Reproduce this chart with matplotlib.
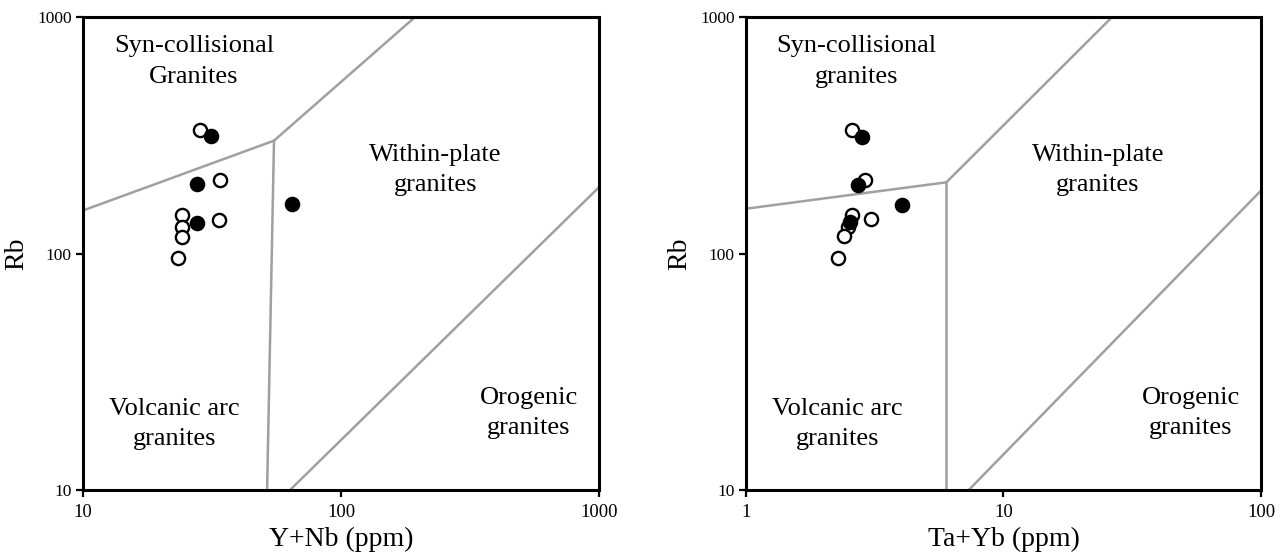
import numpy as np
import matplotlib
matplotlib.use("Agg")
import matplotlib.pyplot as plt

plt.rcParams['font.family'] = ['Liberation Serif', 'DejaVu Serif']

# Field boundaries (Pearce et al. 1984)
yn_bounds = [
    [(2, 80), (55, 300), (400, 2000)],
    [(55, 300), (51.5, 8)],
    [(51.5, 8), (2000, 400)],
]
ty_bounds = [
    [(0.5, 140), (6, 200), (50, 2000)],
    [(6, 200), (6, 8)],
    [(6, 8), (200, 400)],
]

# Samples - Y+Nb vs Rb
yn_open_x = [28.3, 34.0, 24.3, 24.1, 24.3, 23.4, 33.7]
yn_open_y = [332, 205, 145, 129, 117.5, 95.3, 139]
yn_fill_x = [31.4, 27.6, 27.6, 64.5]
yn_fill_y = [313, 197, 135, 162]

# Samples - Ta+Yb vs Rb
ty_open_x = [2.57, 2.90, 2.57, 2.50, 2.40, 3.06, 2.27]
ty_open_y = [333, 205, 146, 130, 118.6, 139.7, 95.9]
ty_fill_x = [2.81, 2.73, 2.53, 4.05]
ty_fill_y = [312, 195, 136, 160]

labels = ["Syn-collisional\n{}", "Within-plate\ngranites",
          "Volcanic arc\ngranites", "Orogenic\ngranites"]
label_pos = [(0.215, 0.906), (0.683, 0.677), (0.177, 0.14), (0.864, 0.163)]

panels = [
    dict(rect=[83/1288, 1-490/553, 516/1288, 473/553], xlim=(10, 1000),
         xticks=[10, 100, 1000], bounds=yn_bounds,
         ox=yn_open_x, oy=yn_open_y, fx=yn_fill_x, fy=yn_fill_y,
         xlabel="Y+Nb (ppm)", syn="Granites"),
    dict(rect=[746/1288, 1-490/553, 515/1288, 473/553], xlim=(1, 100),
         xticks=[1, 10, 100], bounds=ty_bounds,
         ox=ty_open_x, oy=ty_open_y, fx=ty_fill_x, fy=ty_fill_y,
         xlabel="Ta+Yb (ppm)", syn="granites"),
]

fig = plt.figure(figsize=(12.88, 5.53), dpi=100)

for p in panels:
    ax = fig.add_axes(p['rect'])
    ax.set_xscale('log')
    ax.set_yscale('log')

    for seg in p['bounds']:
        xs, ys = zip(*seg)
        ax.plot(xs, ys, color='#a0a0a0', lw=1.8, zorder=1)

    ax.plot(p['ox'], p['oy'], 'o', ms=9.5, mfc='white', mec='black', mew=1.7, zorder=3)
    ax.plot(p['fx'], p['fy'], 'o', ms=9.5, mfc='black', mec='black', mew=1.7, zorder=4)

    ax.set_xlim(*p['xlim'])
    ax.set_ylim(10, 1000)

    ax.set_xticks(p['xticks'])
    ax.set_xticklabels([str(t) for t in p['xticks']], fontsize=13.5)
    ax.set_yticks([10, 100, 1000])
    ax.set_yticklabels(['10', '100', '1000'], fontsize=12.5)
    ax.minorticks_off()
    ax.tick_params(direction='out', length=5, width=1.6, pad=3)
    ax.tick_params(axis='x', pad=5)
    for s in ax.spines.values():
        s.set_linewidth(2.2)

    ax.set_xlabel(p['xlabel'], fontsize=20, labelpad=4)
    ax.set_ylabel("Rb", fontsize=20, labelpad=6)

    for lab, (tx, ty) in zip(labels, label_pos):
        ax.text(tx, ty, lab.format(p['syn']), transform=ax.transAxes,
                ha='center', va='center', fontsize=19, linespacing=1.5)

fig.savefig("out.png", dpi=100)
